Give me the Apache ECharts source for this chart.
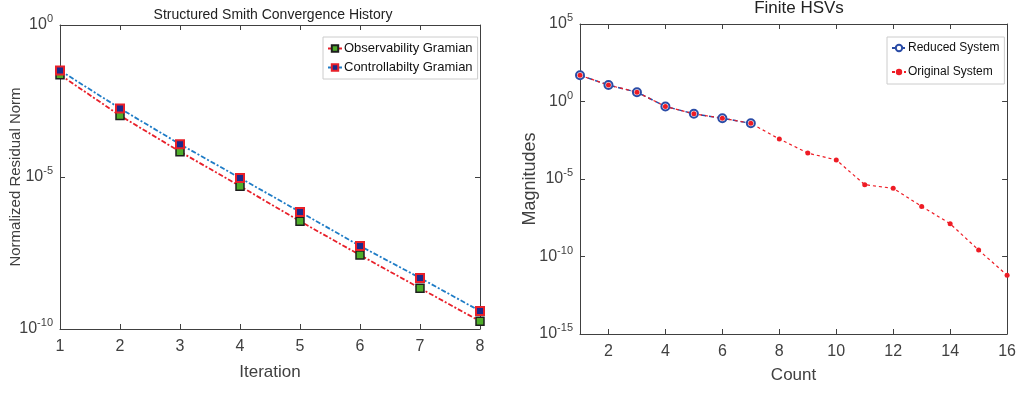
<!DOCTYPE html>
<html>
<head>
<meta charset="utf-8">
<script src="https://cdn.jsdelivr.net/npm/echarts@6/dist/echarts.min.js"></script>
<style>
  html, body { margin: 0; padding: 0; background: #fff; }
  #chart1 { width: 1019px; height: 395px; }
</style>
</head>
<body>
<div id="chart1"></div>
<script>
// left panel data
var iterations = [1, 2, 3, 4, 5, 6, 7, 8];
var obsResidual = [2.3e-2, 1.05e-3, 6.8e-5, 5.0e-6, 3.5e-7, 2.7e-8, 2.2e-9, 1.8e-10];
var ctrlResidual = [3.2e-2, 1.8e-3, 1.2e-4, 9.3e-6, 7.1e-7, 5.4e-8, 4.8e-9, 3.9e-10];

// right panel data
var counts = [1, 2, 3, 4, 5, 6, 7, 8, 9, 10, 11, 12, 13, 14, 15, 16];
var originalHsv = [49, 11.5, 4.0, 0.48, 0.16, 0.083, 0.039, 3.8e-3, 4.7e-4, 1.7e-4,
                   4.3e-6, 2.5e-6, 1.7e-7, 1.3e-8, 2.6e-10, 6.2e-12];
var reducedHsv = [49, 11.5, 4.0, 0.48, 0.16, 0.083, 0.039];
var countTicks = [2, 4, 6, 8, 10, 12, 14, 16];

var txt = '#404040';
var font = 'Liberation Sans, Arial, sans-serif';

function pairs(xs, ys) {
    return ys.map(function (y, i) { return [xs[i], y]; });
}

function powLabel(v) {
    var e = Math.round(Math.log10(v));
    return '{b|10}{s|' + e + '}';
}
var powRich = {
    b: {fontSize: 16, color: txt, fontFamily: font},
    s: {fontSize: 11, color: txt, fontFamily: font, padding: [0, 0, 12, 0]}
};

var axisLine = {show: true, lineStyle: {color: '#404040', width: 1}};
var inTick = {show: true, inside: true, length: 5, lineStyle: {color: '#404040'}};

var chartDom = document.getElementById('chart1');
var myChart = echarts.init(chartDom);
var option;

option = {
    backgroundColor: '#fff',
    animation: false,
    textStyle: {fontFamily: font},
    title: [
        {
            text: 'Structured Smith Convergence History',
            left: 268, top: 3, textAlign: 'center',
            textStyle: {fontSize: 14, fontWeight: 'normal', color: '#222', fontFamily: font}
        },
        {
            text: 'Finite HSVs',
            left: 794, top: -5, textAlign: 'center',
            textStyle: {fontSize: 17, fontWeight: 'normal', color: '#222', fontFamily: font}
        }
    ],
    legend: [
        {
            data: ['Observability Gramian', 'Controllabilty Gramian'],
            orient: 'vertical',
            left: 323, top: 37,
            padding: [5, 5, 5, 4],
            itemGap: 6,
            itemWidth: 14, itemHeight: 8,
            backgroundColor: '#fff',
            borderColor: '#cccccc', borderWidth: 1,
            textStyle: {fontSize: 13, color: '#111', fontFamily: font, padding: [0, 0, 0, -3]}
        },
        {
            data: ['Reduced System', 'Original System'],
            orient: 'vertical',
            left: 887, top: 37,
            padding: [5, 5, 6, 4],
            itemGap: 12,
            itemWidth: 14, itemHeight: 8,
            backgroundColor: '#fff',
            borderColor: '#cccccc', borderWidth: 1,
            textStyle: {fontSize: 12, color: '#111', fontFamily: font, padding: [0, 0, 0, -3]}
        }
    ],
    grid: [
        {left: 60, top: 25, width: 420, height: 304},
        {left: 580, top: 24, width: 428, height: 310}
    ],
    xAxis: [
        {
            gridIndex: 0, type: 'value', min: 1, max: 8, interval: 1,
            name: 'Iteration', nameLocation: 'middle', nameGap: 35,
            nameTextStyle: {fontSize: 17, color: txt, fontFamily: font},
            axisLine: axisLine, axisTick: inTick,
            axisLabel: {fontSize: 16, color: txt, margin: 10, fontFamily: font},
            splitLine: {show: false}
        },
        {
            gridIndex: 0, type: 'value', min: 1, max: 8, interval: 1, position: 'top',
            axisLine: axisLine, axisTick: inTick, axisLabel: {show: false},
            splitLine: {show: false}
        },
        {
            gridIndex: 1, type: 'value', min: 1, max: 16,
            name: 'Count', nameLocation: 'middle', nameGap: 33,
            nameTextStyle: {fontSize: 17, color: txt, fontFamily: font},
            axisLine: axisLine,
            axisTick: {show: true, inside: true, length: 5, lineStyle: {color: '#404040'}, customValues: countTicks},
            axisLabel: {fontSize: 16, color: txt, margin: 10, fontFamily: font, customValues: countTicks},
            splitLine: {show: false}
        },
        {
            gridIndex: 1, type: 'value', min: 1, max: 16, position: 'top',
            axisLine: axisLine,
            axisTick: {show: true, inside: true, length: 5, lineStyle: {color: '#404040'}, customValues: countTicks},
            axisLabel: {show: false},
            splitLine: {show: false}
        }
    ],
    yAxis: [
        {
            gridIndex: 0, type: 'log', logBase: 10, min: 1e-10, max: 1, interval: 5,
            name: 'Normalized Residual Norm', nameLocation: 'middle', nameGap: 37,
            nameMoveOverlap: false,
            nameTextStyle: {fontSize: 15, color: txt, fontFamily: font},
            axisLine: axisLine, axisTick: inTick,
            axisLabel: {formatter: powLabel, rich: powRich, margin: 7},
            splitLine: {show: false}, minorTick: {show: false}
        },
        {
            gridIndex: 0, type: 'log', logBase: 10, min: 1e-10, max: 1, interval: 5, position: 'right',
            axisLine: axisLine, axisTick: inTick, axisLabel: {show: false},
            splitLine: {show: false}
        },
        {
            gridIndex: 1, type: 'log', logBase: 10, min: 1e-15, max: 1e5, interval: 5,
            name: 'Magnitudes', nameLocation: 'middle', nameGap: 41,
            nameMoveOverlap: false,
            nameTextStyle: {fontSize: 18, color: txt, fontFamily: font},
            axisLine: axisLine, axisTick: inTick,
            axisLabel: {formatter: powLabel, rich: powRich, margin: 7},
            splitLine: {show: false}
        },
        {
            gridIndex: 1, type: 'log', logBase: 10, min: 1e-15, max: 1e5, interval: 5, position: 'right',
            axisLine: axisLine, axisTick: inTick, axisLabel: {show: false},
            splitLine: {show: false}
        }
    ],
    series: [
        {
            name: 'Observability Gramian', type: 'line',
            xAxisIndex: 0, yAxisIndex: 0,
            data: pairs(iterations, obsResidual),
            symbol: 'rect', symbolSize: 8,
            lineStyle: {color: '#e8202a', width: 1.8, type: [5, 2, 2, 2]},
            itemStyle: {color: '#4fae2a', borderColor: '#1e1e1e', borderWidth: 1.5}
        },
        {
            name: 'Controllabilty Gramian', type: 'line',
            xAxisIndex: 0, yAxisIndex: 0,
            data: pairs(iterations, ctrlResidual),
            symbol: 'rect', symbolSize: 8,
            lineStyle: {color: '#1f7cc6', width: 1.8, type: [5, 2, 2, 2]},
            itemStyle: {color: '#1c2a8a', borderColor: '#e8202a', borderWidth: 2}
        },
        {
            name: 'Reduced System', type: 'line',
            xAxisIndex: 2, yAxisIndex: 2,
            data: pairs(counts, reducedHsv),
            symbol: 'emptyCircle', symbolSize: 8,
            lineStyle: {color: '#2b4ca6', width: 1.5, type: [5, 3]},
            itemStyle: {color: '#2b4ca6', borderColor: '#2b4ca6', borderWidth: 2}
        },
        {
            name: 'Original System', type: 'line',
            xAxisIndex: 2, yAxisIndex: 2,
            data: pairs(counts, originalHsv),
            symbol: 'circle', symbolSize: 5,
            lineStyle: {color: '#ee1c25', width: 1.2, type: [3, 3]},
            itemStyle: {color: '#ee1c25'}
        }
    ]
};

option && myChart.setOption(option);
</script>
</body>
</html>
